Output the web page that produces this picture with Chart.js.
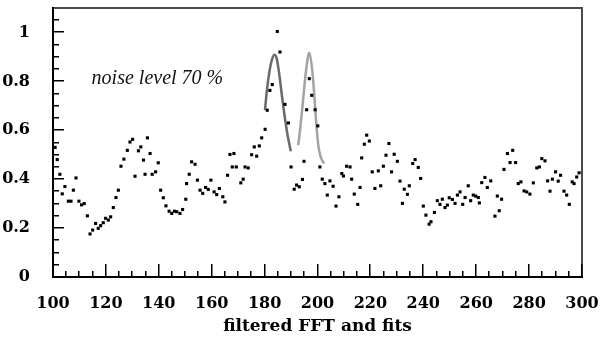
<!DOCTYPE html>
<html><head><meta charset="utf-8">
<script src="https://cdn.jsdelivr.net/npm/chart.js@4"></script>
<style>html,body{margin:0;padding:0;background:#fff}canvas{display:block}</style>
</head><body>
<canvas id="c" width="600" height="337"></canvas>
<script>
const noiseX = [100.8,101.6,102.6,103.5,104.5,105.8,106.8,107.7,108.7,109.8,110.8,111.8,113.0,114.0,115.0,116.1,117.1,118.0,119.0,119.9,120.9,121.8,122.8,123.8,124.7,125.7,126.8,128.1,129.1,130.1,131.0,132.3,133.2,134.2,134.8,135.7,136.7,137.5,138.8,139.8,140.7,141.7,142.7,143.9,144.9,145.9,146.8,148.0,149.0,150.2,150.5,151.5,152.4,153.7,154.6,155.6,156.6,157.7,158.7,159.7,160.9,161.9,162.9,164.2,165.0,166.0,166.9,167.8,168.4,169.3,171.0,171.9,172.6,173.8,175.1,176.1,177.0,178.0,178.9,180.2,181.0,182.0,182.9,184.8,185.8,187.7,189.0,190.0,191.2,192.1,193.1,194.3,194.9,195.9,196.9,197.8,199.1,200.1,200.9,201.8,202.8,203.7,204.7,205.9,207.0,208.1,209.2,209.8,211.0,212.3,212.9,213.9,215.2,216.1,216.7,217.7,218.6,219.6,220.7,221.7,223.0,223.9,224.9,225.9,227.0,228.0,229.0,230.2,231.2,232.1,232.8,234.0,234.7,236.0,236.9,238.1,239.0,240.0,241.0,242.2,242.9,244.2,245.3,246.3,247.2,248.2,249.1,249.8,251.0,252.0,252.9,253.9,254.9,255.8,257.0,257.9,258.9,259.8,260.8,261.2,262.1,263.3,264.2,265.5,267.1,268.0,268.7,269.6,270.5,271.8,272.8,273.8,274.9,275.9,276.9,278.1,279.1,280.3,281.6,282.9,283.9,284.8,286.0,287.0,287.9,288.8,290.0,291.0,291.9,293.2,294.2,295.2,296.3,297.0,298.0,298.9];
const noiseY = [0.53,0.48,0.42,0.34,0.37,0.31,0.31,0.355,0.405,0.31,0.295,0.30,0.25,0.176,0.192,0.219,0.199,0.21,0.222,0.24,0.233,0.246,0.284,0.325,0.355,0.453,0.482,0.518,0.552,0.563,0.412,0.516,0.532,0.478,0.42,0.569,0.505,0.42,0.43,0.467,0.355,0.324,0.291,0.269,0.26,0.269,0.267,0.26,0.276,0.318,0.382,0.42,0.471,0.461,0.396,0.355,0.342,0.366,0.358,0.396,0.348,0.337,0.362,0.328,0.307,0.416,0.501,0.45,0.505,0.45,0.385,0.40,0.45,0.446,0.50,0.532,0.494,0.536,0.569,0.604,0.682,0.763,0.787,1.004,0.92,0.706,0.63,0.45,0.359,0.376,0.369,0.399,0.473,0.684,0.811,0.743,0.684,0.618,0.45,0.40,0.382,0.335,0.393,0.371,0.29,0.328,0.423,0.413,0.453,0.45,0.40,0.339,0.297,0.366,0.487,0.543,0.58,0.556,0.43,0.362,0.434,0.373,0.453,0.498,0.546,0.43,0.502,0.473,0.392,0.301,0.359,0.338,0.373,0.464,0.48,0.448,0.403,0.29,0.253,0.216,0.226,0.264,0.312,0.297,0.318,0.284,0.294,0.324,0.317,0.301,0.335,0.348,0.297,0.325,0.373,0.312,0.335,0.331,0.325,0.303,0.386,0.407,0.366,0.393,0.249,0.331,0.271,0.318,0.44,0.505,0.468,0.518,0.468,0.382,0.389,0.352,0.348,0.339,0.385,0.446,0.45,0.484,0.475,0.393,0.351,0.40,0.43,0.392,0.416,0.351,0.335,0.297,0.389,0.382,0.409,0.426];
const fitAX = [180.15,180.8,181.8,182.7,183.7,184.6,185.6,186.7,187.7,188.7,189.9];
const fitAY = [0.682,0.757,0.838,0.886,0.909,0.893,0.824,0.729,0.648,0.58,0.514];
const fitBX = [192.7,193.6,194.6,195.6,196.9,197.8,198.7,199.4,200.3,201.2,202.5];
const fitBY = [0.539,0.62,0.729,0.838,0.917,0.865,0.757,0.648,0.539,0.491,0.464];
const xTickValues = [100,120,140,160,180,200,220,240,260,280,300];
const yTickValues = [0,0.2,0.4,0.6,0.8,1];
const annotationText = "noise level 70 %";
const xTitleText = "filtered FFT and fits";

const toPts = (xs, ys) => xs.map((x, i) => ({x: x, y: ys[i]}));

const framePlugin = {
  id: 'frame',
  beforeDatasetsDraw(chart) {
    const {ctx, chartArea: a, scales: {x, y}} = chart;
    const L = Math.round(a.left), R = Math.round(a.right), T = Math.round(a.top), B = Math.round(a.bottom);
    ctx.save();
    ctx.setLineDash([]);
    ctx.globalAlpha = 1;
    // top & right border (gray)
    ctx.fillStyle = '#4a4a4a';
    ctx.fillRect(L - 1, T - 1, R - L + 2, 2);
    ctx.fillRect(R - 1, T - 1, 2, B - T + 2);
    // left & bottom axes (black)
    ctx.fillStyle = '#000';
    ctx.fillRect(L - 1, T - 1, 2, B - T + 2);
    ctx.fillRect(L - 1, B - 1, R - L + 2, 2);
    // inward tick marks
    for (let v = 100; v <= 300; v += 5) {
      const px = Math.round(x.getPixelForValue(v));
      const len = (v % 20 === 0) ? 13 : 6;
      ctx.fillRect(px - 1, B - len, 1.5, len);
    }
    for (let k = 0; k <= 21; k++) {
      const py = Math.round(y.getPixelForValue(k * 0.05));
      const len = (k % 4 === 0) ? 11 : 6;
      ctx.fillRect(L, py - 1, len, 1.5);
    }
    ctx.restore();
  },
  afterDraw(chart) {
    const {ctx, scales: {x, y}} = chart;
    ctx.save();
    ctx.font = 'italic 20px "Liberation Serif"';
    ctx.fillStyle = '#111';
    ctx.textBaseline = 'alphabetic';
    ctx.fillText(annotationText, x.getPixelForValue(114.6), y.getPixelForValue(0.79));
    ctx.restore();
  }
};

const noPad = s => { s.paddingLeft = 0; s.paddingRight = 0; s.paddingTop = 0; s.paddingBottom = 0; };

new Chart(document.getElementById('c'), {
  type: 'scatter',
  data: {
    datasets: [
      {data: toPts(noiseX, noiseY), pointStyle: 'rect', pointRadius: 2.2, pointBorderWidth: 0, backgroundColor: '#000', borderColor: '#000', order: 1},
      {data: toPts(fitAX, fitAY), showLine: true, pointRadius: 0, borderColor: '#6a6a6a', borderWidth: 2.5, cubicInterpolationMode: 'monotone', order: 2},
      {data: toPts(fitBX, fitBY), showLine: true, pointRadius: 0, borderColor: '#a3a3a3', borderWidth: 2.5, cubicInterpolationMode: 'monotone', order: 3}
    ]
  },
  options: {
    responsive: false,
    devicePixelRatio: 1,
    animation: false,
    layout: {padding: {top: 8, right: 18, left: 0, bottom: 0}},
    plugins: {legend: {display: false}, tooltip: {enabled: false}},
    scales: {
      x: {
        type: 'linear', min: 100, max: 300,
        afterBuildTicks: s => { s.ticks = xTickValues.map(v => ({value: v})); },
        afterFit: s => { s.height = 60; noPad(s); },
        grid: {display: false}, border: {display: false},
        ticks: {color: '#000', padding: 9, font: {family: '"DejaVu Serif"', weight: 'bold', size: 16}, maxRotation: 0, autoSkip: false},
        title: {display: true, text: xTitleText, color: '#000', font: {family: '"DejaVu Serif"', weight: 'bold', size: 17}, padding: {top: 2, bottom: 0}}
      },
      y: {
        type: 'linear', min: 0, max: 1.1,
        afterBuildTicks: s => { s.ticks = yTickValues.map(v => ({value: v})); },
        afterFit: s => { s.width = 53; noPad(s); },
        grid: {display: false}, border: {display: false},
        ticks: {color: '#000', padding: 15, font: {family: '"DejaVu Serif"', weight: 'bold', size: 16}, callback: v => String(v)}
      }
    }
  },
  plugins: [framePlugin]
});
</script>
</body></html>
